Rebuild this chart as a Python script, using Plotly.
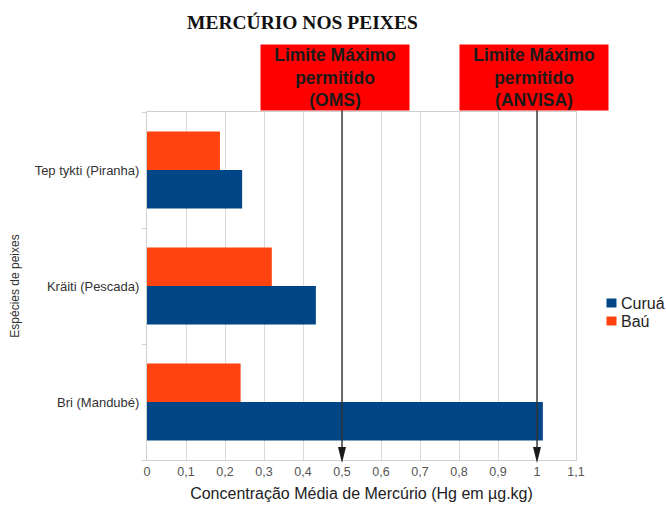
import plotly.graph_objects as go

# Species (bottom to top on the category axis)
especies = ["Bri (Mandubé)", "Kräiti (Pescada)", "Tep tykti (Piranha)"]
curua = [1.015, 0.433, 0.244]
bau = [0.24, 0.32, 0.187]

series_names = ["Curuá", "Baú"]
series_colors = ["#004586", "#FF420E"]

# Maximum permitted limits
limites = [0.5, 1.0]
limite_textos = ["Limite Máximo<br>permitido<br>(OMS)", "Limite Máximo<br>permitido<br>(ANVISA)"]

x_ticks = [i / 10 for i in range(12)]
x_ticktext = ["0", "0,1", "0,2", "0,3", "0,4", "0,5", "0,6", "0,7", "0,8", "0,9", "1", "1,1"]

fig = go.Figure()
for name, vals, color in zip(series_names, [curua, bau], series_colors):
    fig.add_trace(go.Bar(y=especies, x=vals, name=name, orientation="h",
                         marker=dict(color=color, line=dict(width=0))))

W, H = 666, 509
ml, mr, mt, mb = 147, 90, 112, 49
pw = W - ml - mr
ph = H - mt - mb


def px_x(p):
    return (p - ml) / pw


def px_y(p):
    return 1 - (p - mt) / ph


fig.update_layout(
    width=W, height=H,
    margin=dict(l=ml, r=mr, t=mt, b=mb, pad=0, autoexpand=False),
    paper_bgcolor="white", plot_bgcolor="white",
    barmode="group", bargap=0.335, bargroupgap=0,
    font=dict(family="Liberation Sans, Arial, sans-serif", color="#333333"),
    showlegend=False,
    xaxis=dict(range=[0, 1.1], tickvals=x_ticks, ticktext=x_ticktext,
               showgrid=True, gridcolor="#d9d9d9", gridwidth=1,
               showline=True, linecolor="#d0d0d0", linewidth=1, mirror=True,
               ticks="", tickfont=dict(size=12.5, color="#555555"),
               zeroline=False,
               title=dict(text="Concentração Média de Mercúrio (Hg em µg.kg)",
                          font=dict(size=16, color="#222222"), standoff=9)),
    yaxis=dict(range=[-0.5, 2.5], showgrid=False,
               showline=True, linecolor="#d0d0d0", linewidth=1, mirror=True,
               ticks="outside", tickson="boundaries", ticklen=4, tickcolor="#d0d0d0",
               tickfont=dict(size=13, color="#333333"), ticklabelstandoff=4,
               title=dict(text="Espécies de peixes", font=dict(size=12, color="#333333"),
                          standoff=12)),
)

# Legend drawn beside the plot
for i, (name, color) in enumerate(zip(series_names, series_colors)):
    cy = 303 + 18 * i
    fig.add_shape(type="rect", xref="paper", yref="paper",
                  x0=px_x(606.5), x1=px_x(616.5), y0=px_y(cy + 4.5), y1=px_y(cy - 4.5),
                  fillcolor=color, line=dict(width=0))
    fig.add_annotation(text=name, xref="paper", yref="paper", x=px_x(618.5), y=px_y(cy),
                       xanchor="left", yanchor="middle", showarrow=False,
                       font=dict(size=16, color="#222222"))

# Chart title
fig.add_annotation(text="<b>MERCÚRIO NOS PEIXES</b>", xref="paper", yref="paper",
                   x=px_x(302), y=px_y(22), xanchor="center", yanchor="middle",
                   showarrow=False,
                   font=dict(family="Liberation Serif, Times New Roman, serif", size=19.5, color="#111111"))

# Limit boxes with downward arrows to the axis
box_centers_px = [335, 534]
for lim, txt, cx in zip(limites, limite_textos, box_centers_px):
    fig.add_shape(type="line", xref="x", yref="paper", x0=lim, x1=lim,
                  y0=px_y(110), y1=px_y(452), line=dict(color="#333333", width=1.4))
    fig.add_shape(type="path", xref="x", yref="paper",
                  xsizemode="pixel", ysizemode="pixel", xanchor=lim, yanchor=px_y(463),
                  path="M-4,16 L4,16 L0,0 Z", fillcolor="#1a1a1a", line=dict(width=0))
    fig.add_annotation(text="<b>" + txt + "</b>", xref="paper", yref="paper",
                       x=px_x(cx), y=px_y(77.5),
                       xanchor="center", yanchor="middle", showarrow=False,
                       width=148, height=65, bgcolor="#FF0000", borderpad=0,
                       font=dict(family="Liberation Sans, Arial, sans-serif", size=17.5, color="#1a1a1a"))

fig.write_html("out.html")
